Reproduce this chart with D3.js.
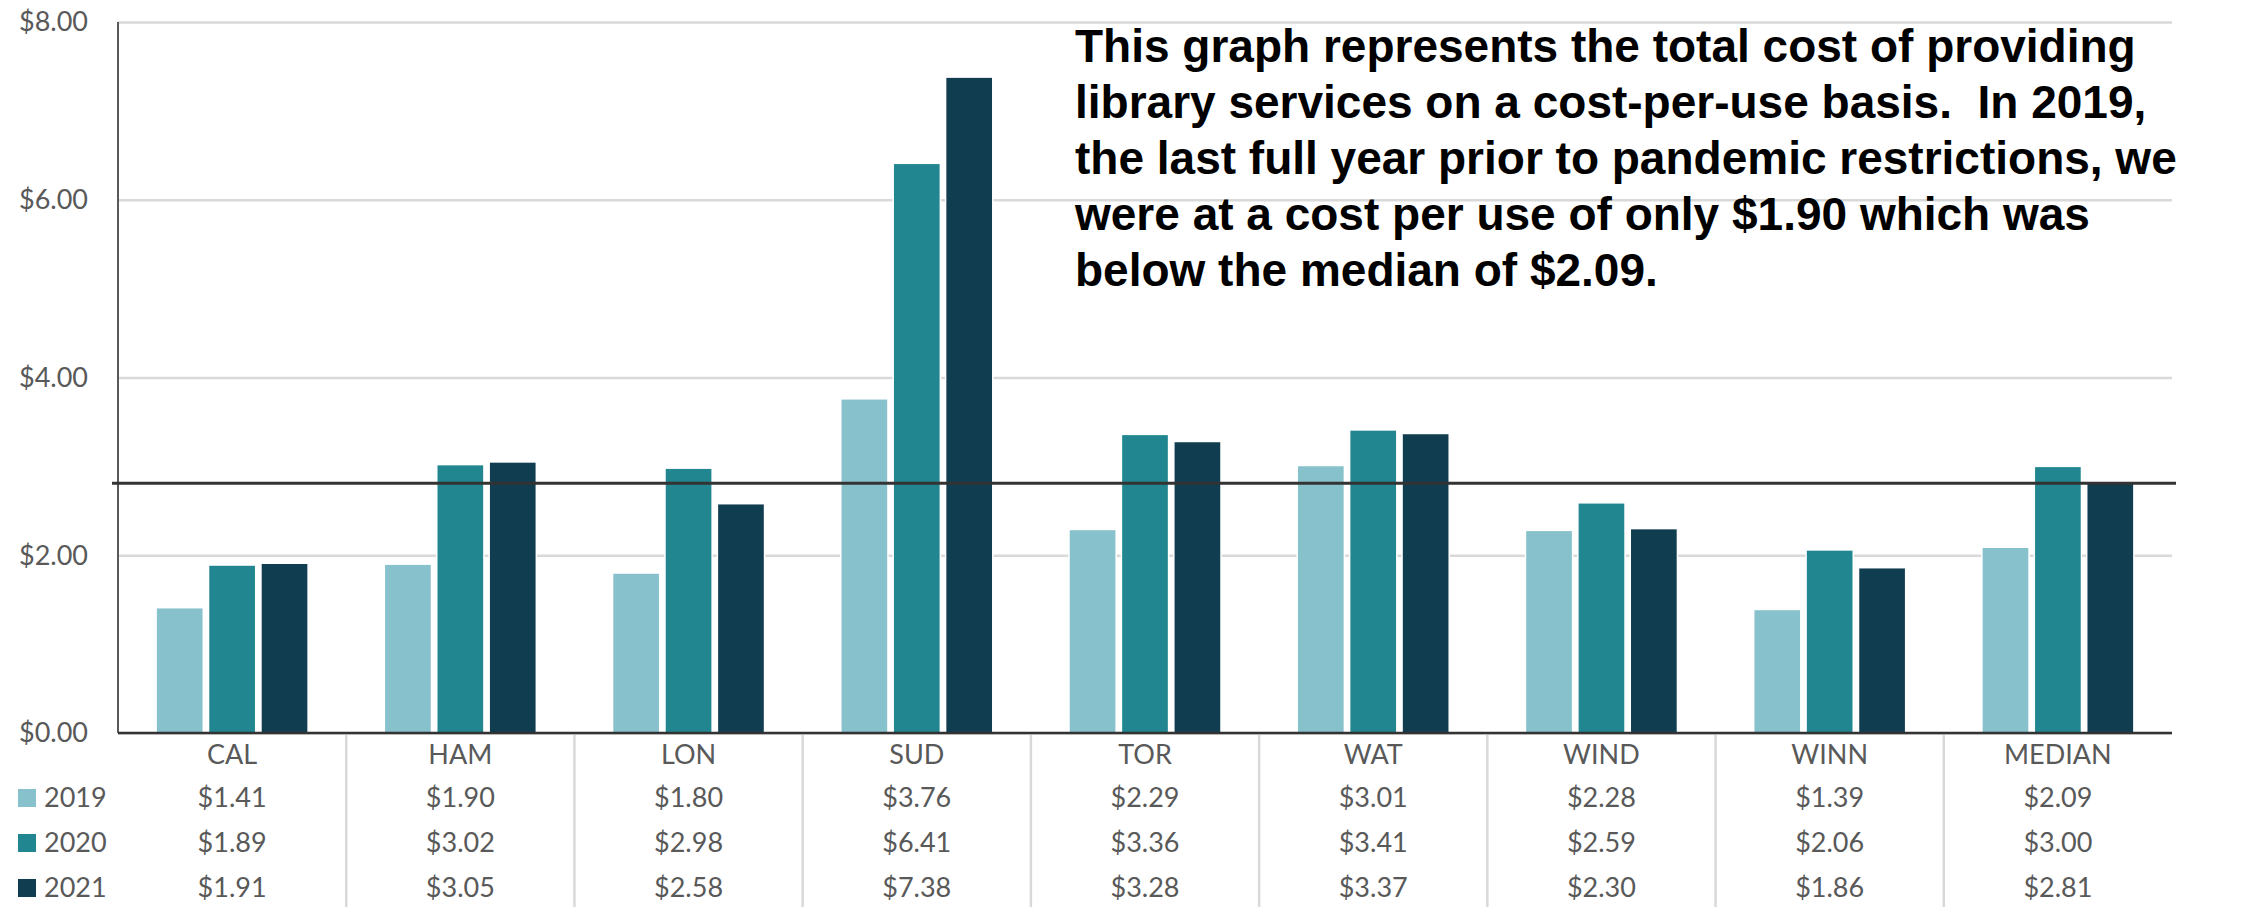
<!DOCTYPE html>
<html>
<head>
<meta charset="utf-8">
<script src="https://cdn.jsdelivr.net/npm/d3@7"></script>
<style>
  body { margin: 0; background: #fff; }
  text { font-family: Lato, "Open Sans", sans-serif; }
</style>
</head>
<body>
<script>
const categories = ['CAL', 'HAM', 'LON', 'SUD', 'TOR', 'WAT', 'WIND', 'WINN', 'MEDIAN']
const series = ['2019', '2020', '2021']
const values2019 = [1.41, 1.90, 1.80, 3.76, 2.29, 3.01, 2.28, 1.39, 2.09]
const values2020 = [1.89, 3.02, 2.98, 6.41, 3.36, 3.41, 2.59, 2.06, 3.00]
const values2021 = [1.91, 3.05, 2.58, 7.38, 3.28, 3.37, 2.30, 1.86, 2.81]
const yTicks = [0, 2, 4, 6, 8]
const medianLine = 2.81
const colors = ['#87c1cc', '#218690', '#113d51']
const note = [
  'This graph represents the total cost of providing',
  'library services on a cost-per-use basis.  In 2019,',
  'the last full year prior to pandemic restrictions, we',
  'were at a cost per use of only $1.90 which was',
  'below the median of $2.09.'
]

const W = 2255, H = 907
const margin = {top: 22, right: 83, bottom: 174, left: 118}
const width = W - margin.left - margin.right
const height = H - margin.top - margin.bottom

const table = series.map((s, i) => ({
  year: s,
  vals: [values2019, values2020, values2021][i],
  color: colors[i]
}))

const svg = d3.select('body').append('svg')
  .attr('width', W)
  .attr('height', H)

const x0 = d3.scaleBand()
  .domain(categories)
  .range([margin.left, margin.left + width])

const bw = x0.bandwidth()
const x1 = d3.scaleBand()
  .domain(series)
  .range([bw * 0.167, bw * 0.833])
  .paddingInner(0.1)

const y = d3.scaleLinear()
  .domain([0, 8])
  .range([margin.top + height, margin.top])

// gridlines
svg.append('g')
  .attr('transform', 'translate(' + margin.left + ',0)')
  .call(d3.axisLeft(y).tickValues(yTicks).tickSize(-width).tickFormat(''))
  .call(g => g.select('.domain').remove())
  .call(g => g.selectAll('line').attr('stroke', '#d9d9d9').attr('stroke-width', 2.5))

// tick labels
svg.selectAll('.ylab')
  .data(yTicks)
  .enter()
  .append('text')
    .attr('x', 88)
    .attr('y', d => y(d))
    .attr('dy', '0.35em')
    .attr('text-anchor', 'end')
    .attr('font-size', '27px')
    .attr('fill', '#595959')
    .text(d => '$' + d.toFixed(2))

// bars
const groups = svg.selectAll('.grp')
  .data(categories)
  .enter()
  .append('g')
    .attr('transform', d => 'translate(' + x0(d) + ',0)')

groups.selectAll('rect')
  .data((c, ci) => table.map(t => ({year: t.year, v: t.vals[ci], color: t.color})))
  .enter()
  .append('rect')
    .attr('x', d => x1(d.year))
    .attr('width', x1.bandwidth())
    .attr('y', d => y(d.v))
    .attr('height', d => y(0) - y(d.v))
    .attr('fill', d => d.color)
    .attr('stroke', '#fff')
    .attr('stroke-width', 1.5)

// y axis line
svg.append('line')
  .attr('x1', margin.left).attr('x2', margin.left)
  .attr('y1', y(8)).attr('y2', y(0))
  .attr('stroke', '#595959')
  .attr('stroke-width', 2)

// baseline
svg.append('line')
  .attr('x1', margin.left).attr('x2', margin.left + width)
  .attr('y1', y(0)).attr('y2', y(0))
  .attr('stroke', '#333')
  .attr('stroke-width', 2.5)

// median line
svg.append('line')
  .attr('x1', margin.left - 6).attr('x2', margin.left + width + 4)
  .attr('y1', y(medianLine)).attr('y2', y(medianLine))
  .attr('stroke', '#333')
  .attr('stroke-width', 3)

// data table dividers
svg.selectAll('.div')
  .data(categories.slice(1))
  .enter()
  .append('line')
    .attr('x1', d => x0(d)).attr('x2', d => x0(d))
    .attr('y1', y(0) + 2).attr('y2', H)
    .attr('stroke', '#d9d9d9')
    .attr('stroke-width', 2.5)

// category labels
svg.selectAll('.cat')
  .data(categories)
  .enter()
  .append('text')
    .attr('x', d => x0(d) + bw / 2)
    .attr('y', 755)
    .attr('dy', '0.35em')
    .attr('text-anchor', 'middle')
    .attr('font-size', '27px')
    .attr('fill', '#595959')
    .text(d => d)

// table rows
const rowY = [798, 843, 888]
table.forEach((t, i) => {
  svg.append('rect')
    .attr('x', 18).attr('y', rowY[i] - 9)
    .attr('width', 18).attr('height', 18)
    .attr('fill', t.color)
  svg.append('text')
    .attr('x', 44).attr('y', rowY[i])
    .attr('dy', '0.35em')
    .attr('font-size', '27px')
    .attr('fill', '#595959')
    .text(t.year)
  svg.selectAll('.v' + i)
    .data(t.vals)
    .enter()
    .append('text')
      .attr('x', (d, ci) => x0(categories[ci]) + bw / 2)
      .attr('y', rowY[i])
      .attr('dy', '0.35em')
      .attr('text-anchor', 'middle')
      .attr('font-size', '27px')
      .attr('fill', '#595959')
      .text(d => '$' + d.toFixed(2))
})

// annotation
svg.append('text')
  .attr('x', 1075)
  .attr('y', 62)
  .attr('font-size', '46px')
  .attr('font-weight', 'bold')
  .attr('fill', '#000')
  .style('font-family', '"Liberation Sans", Arial, sans-serif')
  .style('white-space', 'pre')
  .selectAll('tspan')
  .data(note)
  .enter()
  .append('tspan')
    .attr('x', 1075)
    .attr('dy', (d, i) => i === 0 ? 0 : 56)
    .text(d => d)
</script>
</body>
</html>
